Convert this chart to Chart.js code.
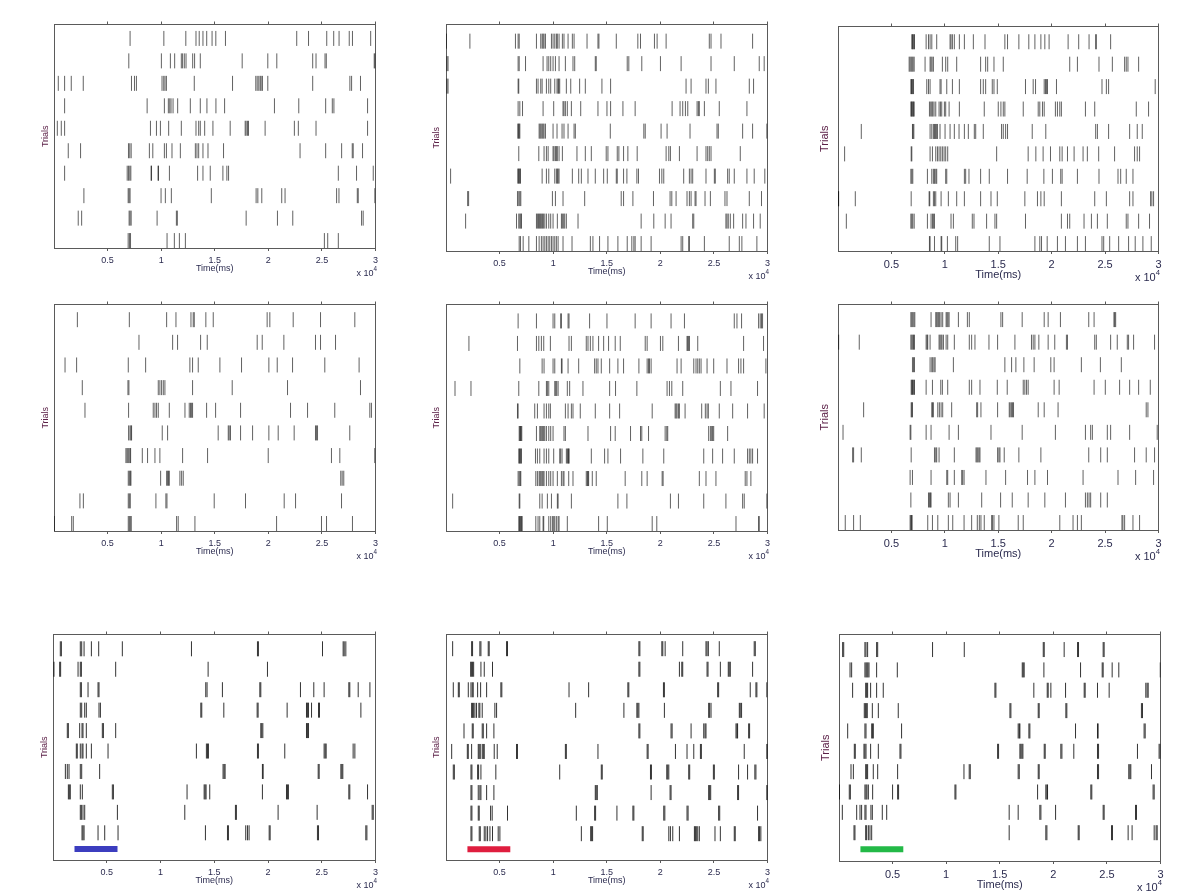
<!DOCTYPE html>
<html><head><meta charset="utf-8">
<script src="https://cdn.jsdelivr.net/npm/chart.js@4/dist/chart.umd.min.js"></script>
<style>
body{margin:0;background:#fff;width:1200px;height:891px;position:relative;overflow:hidden;font-family:"Liberation Sans",Arial,sans-serif}
canvas{position:absolute}
.exp{position:absolute;color:#2b2b4f;white-space:nowrap;text-align:right;line-height:1}
.exp sup{font-size:70%;vertical-align:top;position:relative;top:-3px}
</style></head><body>
<script>
// ---- tick values (ms) ----
const timeTicks = [5000, 10000, 15000, 20000, 25000, 30000];
const timeRange = [0, 30000];
// ---- stimulus window (ms) shown in the bottom row ----
const stimWindow = [2000, 6000];
const stimColors = ['#3c3dbf', '#df1d3e', '#23b947'];

// ---- spike times (ms), one list per trial, top trial first ----
const panel1Spikes = [
[7100, 10250, 12300, 13250, 13550, 13900, 14250, 14750, 15100, 16000, 22650, 23750, 25450, 26100, 26600, 27550, 27850, 29550],
[6980, 10020, 10860, 11260, 11880, 12000, 12160, 12320, 12940, 13120, 13650, 17560, 19950, 20790, 24140, 24450, 25290, 25410, 29880, 29950],
[400, 990, 1610, 2730, 7230, 7510, 7690, 10080, 10240, 10360, 10490, 13090, 16660, 18830, 18960, 19110, 19240, 19330, 19450, 19950, 24140, 27610, 27770, 28600],
[990, 8690, 10300, 10670, 10800, 10920, 11110, 11540, 12720, 13650, 14270, 15110, 15920, 20570, 22840, 25350, 25970, 26120, 29260],
[310, 680, 990, 9000, 9560, 9930, 10700, 11880, 13250, 13500, 13650, 14060, 14830, 16440, 17840, 17930, 18060, 18150, 19700, 22430, 22800, 24450, 29260],
[1330, 2480, 6950, 7070, 7200, 8900, 9220, 10300, 10490, 11010, 11790, 13190, 13340, 13500, 13900, 14370, 15820, 22960, 25350, 26840, 27830, 27920, 28790],
[990, 6830, 6950, 7070, 7170, 9060, 9100, 9710, 9750, 10770, 13400, 13900, 14580, 15760, 16130, 16290, 26530, 28230, 29790],
[2790, 6920, 7010, 7100, 9990, 10390, 10950, 14680, 18860, 19020, 19390, 21250, 21560, 26370, 26590, 28300, 28390, 29940],
[2260, 2580, 7010, 7100, 7200, 9620, 11420, 11510, 17930, 20850, 22280, 28700, 28850],
[6920, 7040, 7140, 10550, 11230, 11700, 12260, 25230, 25540, 26530]
];
const panel2Spikes = [
[30, 2230, 6480, 6730, 6830, 8440, 8840, 8970, 9060, 9150, 9280, 9840, 9990, 10150, 10300, 10390, 10550, 10860, 11010, 11390, 11790, 11950, 13160, 14180, 14270, 15890, 17900, 18150, 19450, 19700, 20540, 24570, 24730, 25660, 28610],
[90, 190, 6730, 6830, 7420, 9060, 9430, 9590, 9770, 9990, 10210, 10550, 11140, 11850, 12010, 13930, 14020, 16910, 17060, 18270, 20010, 21940, 24730, 26900, 29230, 29690],
[90, 190, 6730, 6790, 8440, 8590, 8840, 8970, 9370, 9590, 9770, 10150, 10360, 10460, 10520, 10610, 11230, 11640, 12470, 13000, 14550, 15360, 22400, 22870, 24260, 24480, 25190, 28300, 28700],
[6730, 6890, 7140, 9060, 10050, 10920, 11010, 11140, 11320, 11700, 12570, 14180, 15020, 15360, 16510, 17650, 21100, 21840, 22090, 22340, 22560, 23430, 23550, 23640, 24110, 25500, 28080],
[6700, 6760, 6830, 6890, 8690, 8780, 8870, 8970, 9060, 9150, 9280, 9990, 10360, 10830, 11010, 11390, 11950, 12070, 15330, 18460, 18590, 20070, 20630, 22770, 25290, 25410, 27680, 28610, 29940],
[6790, 8660, 9150, 9370, 9530, 9990, 10080, 10210, 10300, 10390, 10550, 10860, 12220, 13000, 13560, 14950, 15110, 15980, 16130, 16570, 16970, 17840, 20540, 20790, 20940, 21780, 23430, 24260, 24420, 24570, 24730, 27460],
[430, 6700, 6760, 6830, 6890, 6950, 8970, 9370, 9590, 10150, 10300, 10390, 10460, 10550, 11790, 12380, 12630, 13250, 13930, 14710, 15050, 15890, 15980, 16570, 16880, 17810, 17960, 19920, 20140, 20320, 22180, 22710, 22870, 23020, 24260, 25040, 25130, 26280, 26430, 26900, 28080, 28760, 29750],
[2020, 2110, 6670, 6790, 6890, 6980, 9930, 10210, 10920, 12940, 16350, 16570, 17440, 19360, 20910, 21070, 21470, 22490, 22710, 22870, 23240, 23330, 24170, 24670, 26030, 26220, 28300, 29440],
[1830, 6580, 6790, 6890, 6980, 7040, 8440, 8530, 8630, 8720, 8810, 8900, 9000, 9090, 9220, 9370, 9590, 9770, 9990, 10390, 10770, 10860, 10980, 11080, 11230, 12320, 18210, 19390, 20450, 21000, 23020, 23120, 26120, 26220, 26340, 26530, 26840, 27680, 27990, 28700, 29320],
[6830, 6950, 7200, 7730, 8440, 8690, 8900, 9060, 9220, 9370, 9530, 9680, 9840, 9990, 10150, 10300, 10460, 10920, 11760, 13470, 13710, 14330, 15110, 16040, 16910, 17340, 17530, 17650, 18210, 19140, 21940, 22090, 22650, 22710, 24110, 26430, 27370, 27610, 29010]
];
const panel3Spikes = [
[6910, 6970, 7030, 7100, 7160, 8250, 8470, 8620, 8780, 9240, 10490, 10580, 10710, 10890, 11360, 11830, 12670, 13760, 15620, 15870, 16930, 17860, 18430, 18990, 19360, 19760, 21540, 22530, 23500, 24120, 24180, 25520],
[6660, 6750, 6850, 6940, 7030, 7130, 8150, 8620, 8710, 8810, 8930, 9770, 10080, 10270, 11110, 13350, 13820, 14010, 14600, 15470, 21690, 22410, 24430, 25680, 26830, 26980, 27140, 28140],
[6820, 6880, 6940, 7000, 7070, 8310, 8470, 8620, 9550, 9650, 10180, 10710, 11360, 13350, 13600, 13820, 14440, 14600, 14910, 17550, 18270, 18490, 19300, 19420, 19510, 19610, 20450, 24710, 25120, 25330, 29690],
[6820, 6880, 6940, 7000, 7070, 7130, 8560, 8680, 8780, 8870, 8990, 9150, 9460, 9590, 9710, 9960, 10080, 10400, 11360, 13690, 15000, 15250, 15470, 15620, 17340, 18740, 18890, 19140, 19300, 20350, 20540, 20760, 20910, 23160, 24030, 27920, 29070],
[2180, 6970, 7030, 7100, 8620, 8780, 8930, 9030, 9120, 9210, 9310, 9550, 10020, 10490, 10890, 11330, 11830, 12200, 12760, 12890, 13600, 15310, 15470, 15690, 15870, 18180, 19450, 24120, 24280, 25330, 27300, 28010, 28480],
[620, 6850, 6910, 8620, 8840, 9150, 9310, 9460, 9620, 9770, 9930, 10080, 10270, 14850, 17800, 18520, 19200, 19890, 20760, 20980, 21480, 22100, 22940, 23340, 24400, 25890, 27760, 28010, 28230],
[6820, 6910, 7000, 8370, 8780, 8930, 9030, 9150, 9240, 10080, 10180, 11830, 11950, 12260, 13350, 14160, 15870, 17710, 19270, 20070, 20850, 20980, 22410, 24430, 26210, 26460, 26980, 27610],
[20, 60, 1620, 6850, 8530, 8590, 8930, 9030, 9150, 9650, 10330, 11110, 11830, 13350, 14320, 14910, 17490, 18670, 18990, 19300, 20910, 24030, 25120, 27300, 27610, 29260, 29380, 29540],
[780, 6820, 6910, 7000, 7130, 8370, 8710, 8840, 8930, 9030, 10580, 10800, 12570, 12730, 13910, 14690, 14850, 17550, 20910, 21480, 21690, 23030, 23720, 24280, 25210, 26980, 27140, 28140, 29160],
[8560, 8620, 9030, 9650, 9710, 10240, 11020, 11200, 14160, 15160, 18430, 18890, 19050, 19580, 20540, 21290, 22410, 23160, 24710, 24870, 25430, 26270, 27200, 27820, 28540, 29320]
];
const panel4Spikes = [
[2180, 7030, 10510, 11380, 12780, 12990, 13090, 14170, 14860, 19890, 20140, 22320, 24870, 28070],
[7930, 11070, 11530, 13680, 14300, 18960, 19430, 21450, 24400, 24870, 26270],
[1030, 2110, 6930, 8550, 12680, 12930, 13460, 15480, 17500, 20050, 20830, 22260, 25270, 28470],
[2640, 6900, 6990, 9730, 9880, 10040, 10200, 10350, 12930, 16630, 21790, 28600],
[2890, 6960, 9260, 9420, 9570, 9730, 10760, 12220, 12620, 12740, 12840, 12930, 14240, 15080, 17410, 22070, 23660, 26200, 29470, 29620],
[6960, 7090, 7180, 7240, 10100, 10600, 15320, 16260, 16350, 16470, 17410, 18530, 20050, 20920, 22410, 24400, 24490, 24590, 27600],
[6710, 6810, 6900, 6990, 7090, 7150, 8240, 8730, 9420, 9880, 12000, 14330, 19990, 25890, 26670, 29930],
[6930, 7030, 7120, 7180, 9950, 10510, 10600, 10690, 10760, 11750, 11910, 12060, 26760, 26890, 27040],
[2420, 2740, 6930, 7030, 7120, 9510, 10440, 10540, 14950, 17870, 21480, 22540, 26830],
[30, 1650, 1800, 6930, 7030, 7120, 7210, 11440, 11590, 13150, 20770, 24960, 25430, 27850]
];
const panel5Spikes = [
[6730, 8440, 9990, 10150, 10700, 10770, 11390, 11480, 13400, 15020, 17650, 19140, 21000, 22250, 26900, 27150, 27580, 29170, 29320, 29440, 29540],
[2140, 6670, 8440, 8660, 8900, 9120, 9740, 11480, 11700, 13090, 13250, 13470, 13710, 14240, 14710, 15170, 15790, 16260, 18590, 18770, 20010, 20230, 21690, 22490, 22560, 22650, 22710, 23490, 27770, 29630],
[6890, 8970, 9150, 9990, 10150, 10770, 10830, 11390, 12380, 13870, 14020, 14180, 14490, 15270, 16040, 16570, 18000, 18770, 18900, 18990, 19140, 21560, 21940, 23120, 23330, 23490, 23640, 23800, 24360, 24980, 26220, 27300, 27520, 27770, 29850],
[840, 2330, 6790, 8660, 9370, 9460, 9590, 10150, 10240, 10330, 10460, 11320, 11540, 12780, 15270, 15820, 17810, 20630, 20850, 21070, 22090, 25600, 26590, 29070],
[6670, 6730, 8280, 8530, 9150, 9370, 9590, 9740, 11140, 11390, 11700, 11850, 12530, 13930, 15270, 16200, 19240, 21380, 21470, 21560, 21690, 21780, 22310, 23860, 24200, 24360, 24480, 25500, 26750, 28140, 29690],
[6830, 6890, 6950, 7010, 7070, 8440, 8750, 8840, 8940, 9030, 9120, 9220, 9370, 9590, 9770, 9990, 11010, 11140, 13250, 15360, 15790, 17220, 18150, 18270, 18900, 20450, 20600, 20690, 24510, 24670, 24790, 24880, 24980, 26280],
[6790, 6860, 6920, 6980, 7040, 8350, 8530, 8750, 9150, 9370, 9590, 10050, 10610, 10700, 10830, 11230, 11320, 11390, 11450, 11480, 13560, 14800, 15110, 16290, 18370, 20320, 24050, 24880, 25810, 26900, 28140, 28300, 28450, 28610, 29070],
[6730, 6830, 6920, 6980, 8380, 8530, 8690, 8780, 8870, 8970, 9060, 9150, 9370, 9590, 9770, 9990, 10390, 10770, 10920, 11010, 11450, 11850, 13090, 13190, 13250, 13310, 13650, 14020, 16720, 18270, 18770, 20170, 20260, 23640, 24260, 25190, 27920, 28080, 28450],
[620, 6830, 6890, 8750, 8970, 9460, 9840, 10390, 10460, 11700, 16040, 16880, 20940, 21690, 24050, 26120, 27680, 27830, 29940],
[6790, 6860, 6920, 6980, 7040, 7110, 8380, 8590, 8750, 9060, 9120, 9590, 9770, 9930, 10050, 10150, 10300, 10460, 10550, 11320, 14240, 15050, 19240, 19670, 27060, 29170, 29230]
];
const panel6Spikes = [
[6820, 6910, 7000, 7100, 7190, 8710, 9150, 9240, 9340, 9430, 9520, 9650, 9800, 10120, 10210, 10300, 10400, 11270, 12110, 12290, 15250, 15410, 17240, 19300, 19670, 20820, 23470, 23970, 25830, 25900, 25990],
[60, 1990, 6820, 6910, 7000, 7070, 7160, 8250, 8340, 8400, 8620, 9460, 9550, 9650, 9740, 9870, 10120, 10270, 10890, 12290, 12510, 12820, 14130, 14940, 16560, 18110, 18270, 18430, 18800, 19670, 20290, 21380, 21480, 24030, 24180, 25520, 26140, 27080, 27200, 27670, 29630],
[6970, 7070, 7160, 8620, 8780, 8870, 8990, 9090, 10800, 15620, 16250, 16650, 17400, 18360, 19920, 20230, 22780, 24560, 26520],
[6850, 6910, 6970, 7030, 7100, 7160, 8250, 8840, 9620, 9770, 10270, 12290, 12510, 13290, 14910, 15840, 17340, 17490, 17650, 17800, 20230, 20700, 23970, 25020, 26360, 27300, 28140, 29230],
[2400, 6850, 6910, 6970, 8780, 8840, 8930, 9340, 9490, 9650, 9800, 10640, 12980, 13070, 13380, 14940, 16030, 16120, 16250, 16340, 16430, 18740, 19300, 20600, 28850, 29010],
[470, 6750, 6820, 8250, 8710, 10400, 11270, 14320, 17240, 20350, 23160, 23650, 23810, 25210, 25520, 27300, 29880],
[1370, 1460, 2180, 6850, 9030, 9150, 9240, 9460, 10890, 12920, 13010, 13100, 13200, 13290, 14940, 15060, 15160, 15560, 16930, 18990, 23470, 24590, 25210, 27760, 28850, 29630],
[6750, 6970, 8710, 10180, 10270, 10890, 11580, 11670, 11800, 13850, 15690, 17740, 18430, 19610, 22940, 26210, 27860, 29540],
[6820, 8470, 8560, 8650, 8710, 10330, 10490, 11270, 13450, 15220, 16310, 17800, 19360, 21290, 23160, 23340, 23500, 23650, 24590, 25210],
[680, 1460, 2090, 6750, 6820, 6880, 6940, 8400, 8840, 9340, 10330, 10740, 11800, 12510, 13040, 13230, 13380, 13690, 14380, 14470, 14600, 15060, 16870, 17340, 20760, 22000, 22410, 22780, 26580, 26670, 26830, 27610, 28230]
];
const panel7Spikes = [
[680, 780, 2540, 2670, 2890, 3570, 4250, 6450, 12880, 19020, 19110, 25070, 26990, 27090, 27240],
[90, 620, 710, 2330, 2540, 2640, 5830, 14430, 19950],
[2540, 2640, 3260, 4190, 4280, 14210, 14330, 15760, 19240, 19330, 23020, 24260, 25220, 27520, 27610, 28390, 29480],
[2540, 2670, 2950, 3100, 4280, 4410, 13750, 13840, 15890, 18990, 19080, 21780, 23580, 23670, 23770, 24050, 24700, 24790, 28640],
[1330, 1430, 2480, 2700, 2790, 3100, 4590, 4690, 5830, 19330, 19420, 19520, 23580, 23670, 23770],
[2170, 2260, 2540, 2700, 2790, 3100, 3570, 5120, 13340, 14270, 14370, 14460, 19020, 19110, 21560, 25220, 25320, 25410, 27920, 28080],
[1150, 1330, 1490, 2540, 2670, 4340, 15820, 15920, 16010, 19480, 19550, 24670, 24760, 26780, 26870, 26960],
[1430, 1520, 1610, 2540, 2730, 5520, 5620, 12470, 14060, 14150, 14240, 14580, 19480, 21720, 21810, 21900, 27520, 27610, 29260],
[2540, 2640, 2790, 2950, 5990, 12260, 16970, 17060, 20940, 24570, 29690, 29790],
[2700, 2790, 2890, 4190, 4810, 6050, 14180, 16230, 16320, 17930, 18090, 18240, 20110, 20200, 24600, 24700, 29100, 29200]
];
const panel8Spikes = [
[620, 2390, 2480, 3160, 3260, 3940, 4030, 5650, 5740, 18000, 18090, 20140, 20230, 20450, 22090, 24260, 24360, 24480, 25500, 28760, 28860],
[2300, 2390, 2480, 2580, 3260, 3570, 4340, 18000, 18090, 21780, 22000, 22090, 24360, 24450, 25600, 26340, 26430, 26530, 28610],
[680, 1150, 1240, 2080, 2330, 2450, 2540, 2950, 3230, 3790, 5120, 5210, 11480, 13310, 16970, 17060, 20290, 20380, 25350, 25440, 28390, 28920, 29010, 29940],
[2390, 2480, 2580, 2700, 2850, 3070, 3160, 3380, 4560, 4720, 12100, 16600, 17810, 17900, 18000, 20380, 24510, 24600, 24730, 27370, 27460, 27580],
[1680, 2450, 2540, 3380, 3480, 3790, 4470, 18000, 18090, 21000, 21100, 22870, 24050, 24170, 24260, 27060, 27150, 27210, 28240, 28330],
[530, 1990, 2080, 2390, 3010, 3100, 3200, 3380, 3480, 3570, 4500, 4780, 6580, 6670, 11140, 11230, 14180, 18770, 18860, 21410, 22490, 23120, 23740, 23830, 27830, 29940, 29990],
[680, 780, 2330, 2420, 2950, 3040, 3260, 4650, 10610, 14490, 14580, 19080, 19170, 20600, 20690, 20790, 22650, 22740, 24950, 25040, 27300, 28140, 28820, 28920],
[2330, 2420, 3010, 3160, 3260, 3790, 4470, 13930, 14020, 14120, 19140, 20910, 21000, 24510, 24600, 24700, 27210, 27300, 29940, 29990],
[2330, 2420, 3010, 3100, 4160, 4310, 5740, 12160, 13870, 13960, 15950, 17440, 17530, 20320, 20420, 22490, 22590, 25440, 25540, 29070],
[2330, 2420, 3100, 3200, 3570, 3720, 3880, 4100, 4340, 4870, 5030, 12630, 13500, 13590, 13680, 18310, 18400, 20790, 20940, 21160, 21780, 23180, 23270, 23360, 23490, 23640, 25100, 25600, 26900, 26990, 29170, 29260, 29380]
];
const panel9Spikes = [
[340, 440, 2420, 2520, 2670, 3510, 3610, 8730, 11690, 19060, 19150, 21010, 22260, 22350, 24650, 24740],
[1030, 1180, 2420, 2520, 2610, 2700, 2800, 3510, 5440, 17100, 17190, 17280, 19120, 22540, 24560, 24650, 25490, 26110, 29980],
[1270, 2490, 2580, 2670, 2950, 3510, 4130, 14550, 14640, 18180, 19430, 19520, 19770, 21140, 22880, 22970, 24120, 25210, 28630, 28750, 28850],
[2360, 2460, 2550, 2640, 3110, 3670, 5530, 15950, 16040, 18590, 18680, 21170, 21260, 28220, 28320],
[810, 2420, 2520, 3050, 3140, 3200, 5840, 16720, 16820, 16880, 17720, 17810, 22070, 24120, 24180, 28470, 28570],
[1430, 1520, 2330, 2420, 2520, 2950, 3670, 5690, 5780, 14800, 14890, 16880, 16970, 17070, 17160, 19150, 19240, 20700, 20800, 21910, 24120, 24220, 27850, 29870, 29970],
[1120, 1340, 2490, 2580, 2670, 3200, 3610, 5470, 11660, 12150, 12250, 16720, 16820, 18590, 18680, 24120, 24220, 27040, 27140, 27230, 29160],
[30, 960, 1060, 2420, 2520, 2610, 2740, 3140, 5000, 5470, 5560, 10820, 10910, 18530, 19300, 19400, 19460, 23500, 23590, 29310, 29410],
[310, 1650, 1960, 2110, 2420, 2520, 2980, 3110, 4040, 4450, 15880, 16720, 18740, 18840, 20210, 24650, 24740, 27670, 27760],
[1400, 1490, 2490, 2580, 2740, 2890, 3050, 15880, 19300, 19400, 22320, 22410, 25430, 25520, 26980, 27350, 29410, 29590, 29690]
];

// ---- page layout (pixels) ----
const PAD_L = 30, PAD_T = 6, PAD_R = 8, PAD_B = 34;
const panels = [
  {spikes: panel1Spikes, box: [54, 22, 376, 248], y: [-0.33, 9.62], col: 0},
  {spikes: panel2Spikes, box: [446, 22, 768, 251], y: [-0.33, 9.74], col: 1},
  {spikes: panel3Spikes, box: [838, 24, 1159, 251], y: [-0.33, 9.68], col: 2},
  {spikes: panel4Spikes, box: [54, 302, 376, 531], y: [-0.33, 9.67], col: 0},
  {spikes: panel5Spikes, box: [446, 302, 768, 531], y: [-0.33, 9.73], col: 1},
  {spikes: panel6Spikes, box: [838, 302, 1159, 530], y: [-0.33, 9.67], col: 2},
  {spikes: panel7Spikes, box: [53, 632, 376, 860], y: [-1.33, 9.70], col: 0, stim: 0, stimY: -0.79},
  {spikes: panel8Spikes, box: [446, 632, 768, 860], y: [-1.28, 9.69], col: 1, stim: 1, stimY: -0.76},
  {spikes: panel9Spikes, box: [839, 632, 1161, 861], y: [-1.39, 9.74], col: 2, stim: 2, stimY: -0.81}
];

const FRAME = '#5a5a5a';
const TXT = '#2b2b4f';
const FAM = '"Liberation Sans", Arial, sans-serif';

panels.forEach(p => {
  const [l, t, r, b] = p.box;
  const W = r - l + PAD_L + PAD_R, H = b - t + PAD_T + PAD_B;
  const c = document.createElement('canvas');
  c.width = W; c.height = H;
  c.style.left = (l - PAD_L) + 'px'; c.style.top = (t - PAD_T) + 'px';
  c.style.width = W + 'px'; c.style.height = H + 'px';
  document.body.appendChild(c);
  const big = p.col === 2;
  const fs = big ? 11 : 9;
  const lh = fs * 1.2;
  const yTitleOff = big ? 13.4 : (p.col === 1 ? 9.3 : 8.6);
  const xTitleOff = big ? 24 : 21;
  const bottomRow = p.stim !== undefined;

  const pts = [];
  p.spikes.forEach((row, k) => row.forEach(x => pts.push({x: x, y: 9 - k})));
  const datasets = [{
    type: 'scatter', data: pts, showLine: false,
    pointStyle: 'line', pointRotation: 90, pointRadius: 7.5, pointHoverRadius: 7.5,
    pointBorderWidth: 1, pointBorderColor: bottomRow ? 'rgba(0,0,0,0.8)' : 'rgba(0,0,0,0.62)',
    pointBackgroundColor: 'rgba(0,0,0,0)'
  }];
  if (bottomRow) {
    datasets.push({
      type: 'line', data: [{x: stimWindow[0], y: p.stimY}, {x: stimWindow[1], y: p.stimY}],
      borderColor: stimColors[p.stim], borderWidth: 6, pointRadius: 0, borderCapStyle: 'butt', fill: false
    });
  }
  const tickBuilder = s => { s.ticks = timeTicks.map(v => ({value: v})); };
  new Chart(c, {
    data: {datasets},
    options: {
      responsive: false, animation: false, devicePixelRatio: 1, events: [],
      layout: {padding: 0},
      plugins: {legend: {display: false}, tooltip: {enabled: false}},
      scales: {
        x: {
          type: 'linear', position: 'bottom', min: timeRange[0], max: timeRange[1],
          afterBuildTicks: tickBuilder,
          ticks: {callback: v => String(v / 10000), color: TXT, font: {size: fs, family: FAM}, padding: 4, maxRotation: 0, autoSkip: false},
          grid: {drawOnChartArea: false, drawTicks: true, tickLength: 3, color: FRAME},
          border: {display: true, color: FRAME, width: 1},
          title: {display: true, text: 'Time(ms)', color: TXT, font: {size: fs, family: FAM},
                  padding: {top: 0, bottom: PAD_B - xTitleOff - lh / 2}},
          afterFit: s => { s.height = PAD_B; }
        },
        xTop: {
          type: 'linear', position: 'top', min: timeRange[0], max: timeRange[1],
          afterBuildTicks: tickBuilder,
          ticks: {display: false},
          grid: {drawOnChartArea: false, drawTicks: true, tickLength: 3, color: FRAME},
          border: {display: true, color: FRAME, width: 1},
          afterFit: s => { s.height = PAD_T; }
        },
        y: {
          type: 'linear', position: 'left', min: p.y[0], max: p.y[1],
          ticks: {display: false}, grid: {display: false},
          border: {display: true, color: FRAME, width: 1},
          title: {display: true, text: 'Trials', color: '#5c2148', font: {size: fs, family: FAM},
                  padding: {top: PAD_L - yTitleOff - lh / 2, bottom: 0}},
          afterFit: s => { s.width = PAD_L; }
        },
        yRight: {
          type: 'linear', position: 'right', min: 0, max: 1,
          ticks: {display: false}, grid: {display: false},
          border: {display: true, color: FRAME, width: 1},
          afterFit: s => { s.width = PAD_R; }
        }
      }
    }
  });
  const e = document.createElement('div');
  e.className = 'exp';
  e.style.fontSize = fs + 'px';
  e.style.right = (1200 - r - 1) + 'px';
  e.style.top = (b + (big ? 21 : 21)) + 'px';
  e.innerHTML = 'x 10<sup>4</sup>';
  document.body.appendChild(e);
});
</script>
</body></html>
